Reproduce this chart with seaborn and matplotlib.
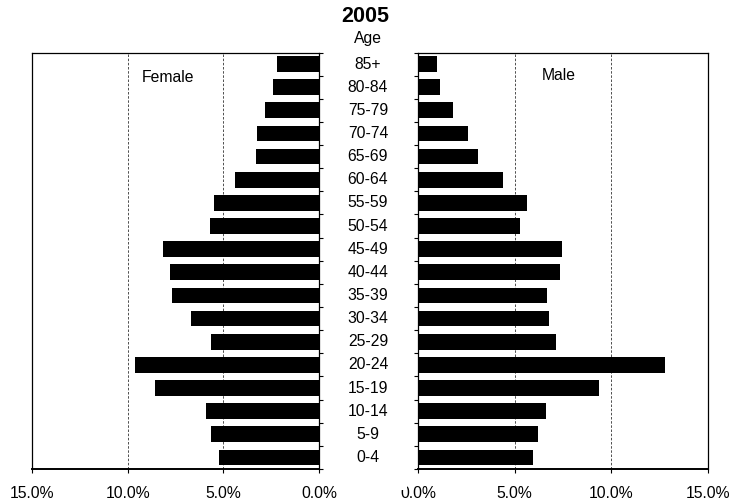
import numpy as np
import matplotlib
matplotlib.use('Agg')
import matplotlib.pyplot as plt
import matplotlib.transforms as mtransforms
from matplotlib.patches import Rectangle
import seaborn as sns
import pandas as pd

ages = ['85+', '80-84', '75-79', '70-74', '65-69', '60-64', '55-59', '50-54', '45-49',
        '40-44', '35-39', '30-34', '25-29', '20-24', '15-19', '10-14', '5-9', '0-4']
female = [2.2, 2.4, 2.8, 3.25, 3.3, 4.4, 5.5, 5.7, 8.15,
          7.8, 7.7, 6.7, 5.65, 9.6, 8.55, 5.9, 5.65, 5.25]
male = [1.0, 1.15, 1.8, 2.6, 3.1, 4.4, 5.65, 5.3, 7.45,
        7.35, 6.65, 6.75, 7.15, 12.75, 9.35, 6.6, 6.2, 5.95]
xticks = [0, 5, 10, 15]
xtick_labels = ['0.0%', '5.0%', '10.0%', '15.0%']

df = pd.DataFrame({'age': ages, 'female': female, 'male': male})

sns.set_style('white')
plt.rcParams['font.family'] = ['Liberation Sans', 'DejaVu Sans']
plt.rcParams['text.color'] = 'black'
plt.rcParams['xtick.color'] = 'black'
plt.rcParams['ytick.color'] = 'black'
plt.rcParams['xtick.labelcolor'] = 'black'

W, H = 729, 503
fig = plt.figure(figsize=(W / 100, H / 100), dpi=100)
top = 1 - 52.5 / H
bot = 1 - 469 / H
axL = fig.add_axes([32 / W, bot, (319 - 32) / W, top - bot])
axR = fig.add_axes([418 / W, bot, (708 - 418) / W, top - bot])

sns.barplot(data=df, x='female', y='age', ax=axL, color='black', width=0.68,
            orient='h', saturation=1, edgecolor='none')
sns.barplot(data=df, x='male', y='age', ax=axR, color='black', width=0.68,
            orient='h', saturation=1, edgecolor='none')

for ax in (axL, axR):
    ax.set_xlabel('')
    ax.set_ylabel('')
    ax.set_ylim(len(ages) - 0.5, -0.5)
    ax.set_yticks(np.arange(-0.5, len(ages), 1))
    ax.set_yticklabels([])
    ax.set_xticks(xticks)
    ax.set_xticklabels(xtick_labels, fontsize=11.3, color='black')
    ax.tick_params(axis='x', direction='out', length=3, width=0.8, pad=9, bottom=True)
    ax.tick_params(axis='y', direction='out', length=3, width=0.8)
    for v in (5, 10):
        ax.axvline(v, color='#333333', linestyle=(0, (3, 2)), linewidth=0.6, zorder=0)
    for s in ax.spines.values():
        s.set_color('black')
        s.set_linewidth(0.9)
    ax.spines['bottom'].set_linewidth(1.4)

axL.set_xlim(15, 0)
axL.yaxis.tick_right()
axL.tick_params(axis='y', left=False, right=True)
axR.set_xlim(0, 15)
axR.yaxis.tick_left()

axL.text(0.474, 0.941, 'Female', transform=axL.transAxes, fontsize=11.3, ha='center', va='center')
axR.text(0.486, 0.944, 'Male', transform=axR.transAxes, fontsize=11.3, ha='center', va='center')

# age labels in the gap between the two panels
trans = mtransforms.blended_transform_factory(axL.transAxes, axL.transData)
cx = (368 - 32) / (319 - 32)
for i, a in enumerate(ages):
    axL.text(cx, i, a, transform=trans, ha='center', va='center', fontsize=11.3, clip_on=False)

fig.text(365 / W, 1 - 16 / H, '2005', ha='center', va='center', fontsize=15.5, fontweight='bold')
fig.text(368 / W, 1 - 38 / H, 'Age', ha='center', va='center', fontsize=11.3)

# the left part of the right-hand 0.0% label is hidden in the original
fig.patches.append(Rectangle((385 / W, 1 - 490 / H), 22 / W, 18 / H, transform=fig.transFigure,
                             facecolor='white', edgecolor='none', zorder=10))

fig.savefig('out.png', dpi=100)
